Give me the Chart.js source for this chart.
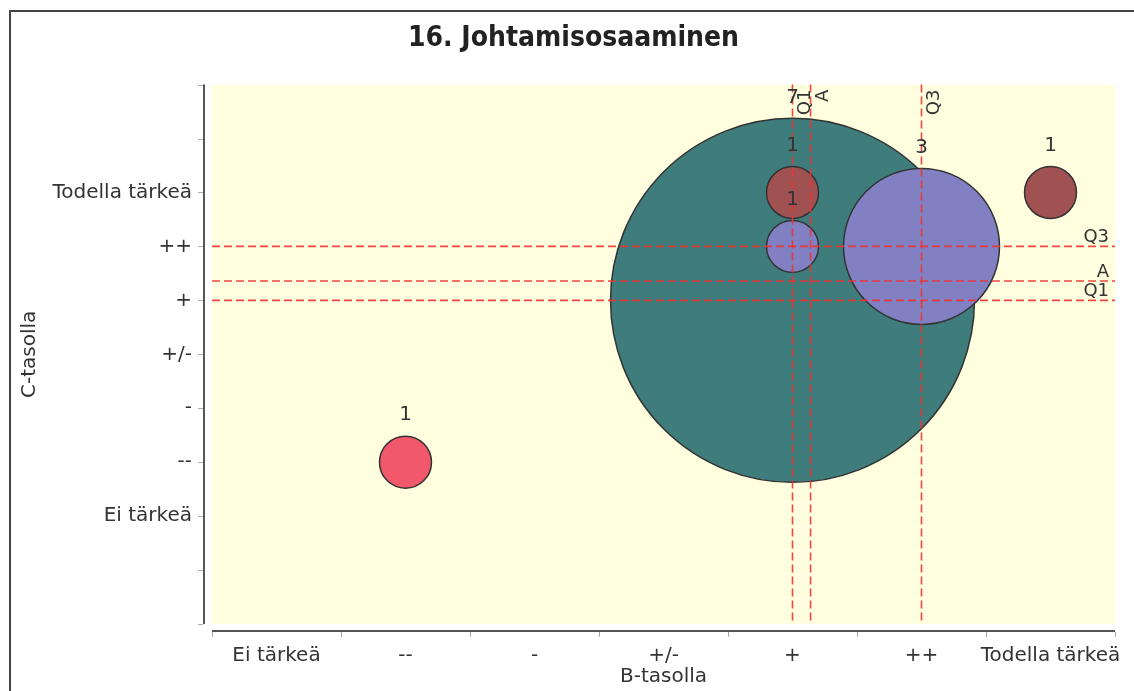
<!DOCTYPE html>
<html>
<head>
<meta charset="utf-8">
<script src="https://cdn.jsdelivr.net/npm/chart.js@4.4.1/dist/chart.umd.min.js"></script>
<style>
  html, body { margin: 0; padding: 0; background: #ffffff; }
  #wrap { width: 1134px; height: 691px; position: relative; }
</style>
</head>
<body>
<div id="wrap"><canvas id="c" width="1134" height="691"></canvas></div>
<script>
// ---- data ----
const categories = ['Ei tärkeä', '--', '-', '+/-', '+', '++', 'Todella tärkeä'];
const chartTitle = '16. Johtamisosaaminen';
const xTitle = 'B-tasolla';
const yTitle = 'C-tasolla';

// bubbles grouped by C-tasolla level (x = B index, y = C index, n = count)
const sTodellaX = [5, 7];   const sTodellaY = [7, 7];   const sTodellaN = [1, 1];
const sPlusPlusX = [5, 6];  const sPlusPlusY = [6, 6];  const sPlusPlusN = [1, 3];
const sPlusX = [5];         const sPlusY = [5];         const sPlusN = [7];
const sMinusMinusX = [2];   const sMinusMinusY = [2];   const sMinusMinusN = [1];

// reference lines
const refXValues = [5, 5.14, 6];   const refXLabels = ['Q1', 'A', 'Q3'];
const refYValues = [6, 5.36, 5];   const refYLabels = ['Q3', 'A', 'Q1'];

// ---- styling ----
const FONT = 'DejaVu Sans';
const R_PER_COUNT = 26;

function pts(xs, ys, ns) {
  return xs.map((x, i) => ({ x: x, y: ys[i], r: ns[i] * R_PER_COUNT, n: ns[i] }));
}
function catLabel(v) {
  return (Number.isInteger(v) && v >= 1 && v <= categories.length) ? categories[v - 1] : '';
}

const datasets = [
  { label: 'Todella tärkeä', data: pts(sTodellaX, sTodellaY, sTodellaN), backgroundColor: 'rgb(160,82,82)', order: 1 },
  { label: '++', data: pts(sPlusPlusX, sPlusPlusY, sPlusPlusN), backgroundColor: 'rgb(128,128,194)', order: 2 },
  { label: '--', data: pts(sMinusMinusX, sMinusMinusY, sMinusMinusN), backgroundColor: 'rgb(242,88,108)', order: 3 },
  { label: '+', data: pts(sPlusX, sPlusY, sPlusN), backgroundColor: 'rgb(63,125,125)', order: 4 }
].map(d => Object.assign(d, { borderColor: '#333', borderWidth: 1.5, hoverBorderWidth: 1.5 }));

const jfPlugin = {
  id: 'jf',
  beforeDraw(chart) {
    const ctx = chart.ctx, a = chart.chartArea;
    const xs = chart.scales.x, ys = chart.scales.y;
    ctx.save();
    ctx.fillStyle = '#ffffff';
    ctx.fillRect(0, 0, chart.width, chart.height);
    ctx.strokeStyle = '#444';
    ctx.lineWidth = 2;
    ctx.strokeRect(10, 11, chart.width + 40, chart.height + 40);
    ctx.fillStyle = '#ffffe0';
    ctx.fillRect(a.left, a.top, a.right - a.left, a.bottom - a.top);
    // axis lines
    ctx.strokeStyle = '#555';
    ctx.lineWidth = 2;
    ctx.beginPath();
    ctx.moveTo(a.left - 8, a.top); ctx.lineTo(a.left - 8, a.bottom);
    ctx.moveTo(a.left, a.bottom + 7); ctx.lineTo(a.right, a.bottom + 7);
    ctx.stroke();
    // tick marks
    ctx.strokeStyle = '#aaa';
    ctx.lineWidth = 1;
    ctx.beginPath();
    ys.ticks.forEach(t => {
      const y = Math.round(ys.getPixelForValue(t.value)) + 0.5;
      ctx.moveTo(a.left - 14, y); ctx.lineTo(a.left - 9, y);
    });
    for (let k = 0; k <= categories.length; k++) {
      const x = Math.round(xs.getPixelForValue(xs.min + k)) + 0.5;
      ctx.moveTo(x, a.bottom + 8); ctx.lineTo(x, a.bottom + 13);
    }
    ctx.stroke();
    ctx.restore();
  },
  afterDatasetsDraw(chart) {
    const ctx = chart.ctx, a = chart.chartArea;
    const xs = chart.scales.x, ys = chart.scales.y;
    ctx.save();
    // reference lines
    ctx.strokeStyle = 'rgba(240,50,50,0.9)';
    ctx.lineWidth = 1.6;
    ctx.setLineDash([8, 4]);
    refXValues.forEach(v => {
      const x = xs.getPixelForValue(v);
      ctx.beginPath(); ctx.moveTo(x, a.top); ctx.lineTo(x, a.bottom); ctx.stroke();
    });
    refYValues.forEach(v => {
      const y = ys.getPixelForValue(v);
      ctx.beginPath(); ctx.moveTo(a.left, y); ctx.lineTo(a.right, y); ctx.stroke();
    });
    ctx.setLineDash([]);
    // reference labels
    ctx.fillStyle = '#333';
    ctx.font = '18px ' + FONT;
    refXValues.forEach((v, i) => {
      const x = xs.getPixelForValue(v);
      ctx.save();
      ctx.translate(x + 17, a.top + 5);
      ctx.rotate(-Math.PI / 2);
      ctx.textAlign = 'right';
      ctx.textBaseline = 'alphabetic';
      ctx.fillText(refXLabels[i], 0, 0);
      ctx.restore();
    });
    ctx.textAlign = 'right';
    ctx.textBaseline = 'alphabetic';
    refYValues.forEach((v, i) => {
      const y = ys.getPixelForValue(v);
      ctx.fillText(refYLabels[i], a.right - 6, y - 4);
    });
    // bubble count labels
    ctx.font = '20px ' + FONT;
    ctx.textAlign = 'center';
    ctx.textBaseline = 'middle';
    chart.data.datasets.forEach((ds, di) => {
      const meta = chart.getDatasetMeta(di);
      meta.data.forEach((el, j) => {
        const r = el.options.radius;
        ctx.fillText(String(ds.data[j].n), el.x, el.y - r - 21);
      });
    });
    ctx.restore();
  }
};

new Chart(document.getElementById('c'), {
  type: 'bubble',
  data: { datasets: datasets },
  options: {
    responsive: false,
    animation: false,
    devicePixelRatio: 1,
    events: [],
    layout: { autoPadding: false, padding: { left: 13, right: 0, top: 0, bottom: 0 } },
    plugins: {
      legend: { display: false },
      tooltip: { enabled: false },
      title: {
        display: true,
        text: chartTitle,
        color: '#222',
        font: { family: "'DejaVu Sans Condensed', 'DejaVu Sans'", size: 28, weight: 'bold' },
        padding: { top: 22, bottom: 29 }
      }
    },
    scales: {
      x: {
        type: 'linear',
        min: 0.5,
        max: 7.5,
        afterBuildTicks: s => { s.ticks = categories.map((_, i) => ({ value: i + 1 })); },
        ticks: {
          stepSize: 1, padding: 20, color: '#333', autoSkip: false, minRotation: 0, maxRotation: 0,
          font: { family: FONT, size: 20 },
          callback: v => catLabel(v)
        },
        grid: { display: false, drawTicks: false },
        border: { display: false },
        title: { display: true, text: xTitle, color: '#333', font: { family: FONT, size: 20 }, padding: { top: 0, bottom: 2 } },
        afterFit: s => { s.height = 67; s.paddingLeft = 0; s.paddingRight = 0; }
      },
      y: {
        type: 'linear',
        min: -1,
        max: 9,
        ticks: {
          stepSize: 1, padding: 20, color: '#333',
          font: { family: FONT, size: 20 },
          callback: v => catLabel(v)
        },
        grid: { display: false, drawTicks: false },
        border: { display: false },
        title: { display: true, text: yTitle, color: '#333', font: { family: FONT, size: 20 }, padding: { top: 5, bottom: 0 } },
        afterFit: s => { s.width = 199; s.paddingTop = 0; s.paddingBottom = 0; }
      },
      y2: {
        type: 'linear',
        position: 'right',
        min: 0,
        max: 1,
        display: true,
        ticks: { display: false },
        grid: { display: false, drawTicks: false },
        border: { display: false },
        afterFit: s => { s.width = 19; }
      }
    }
  },
  plugins: [jfPlugin]
});
</script>
</body>
</html>
